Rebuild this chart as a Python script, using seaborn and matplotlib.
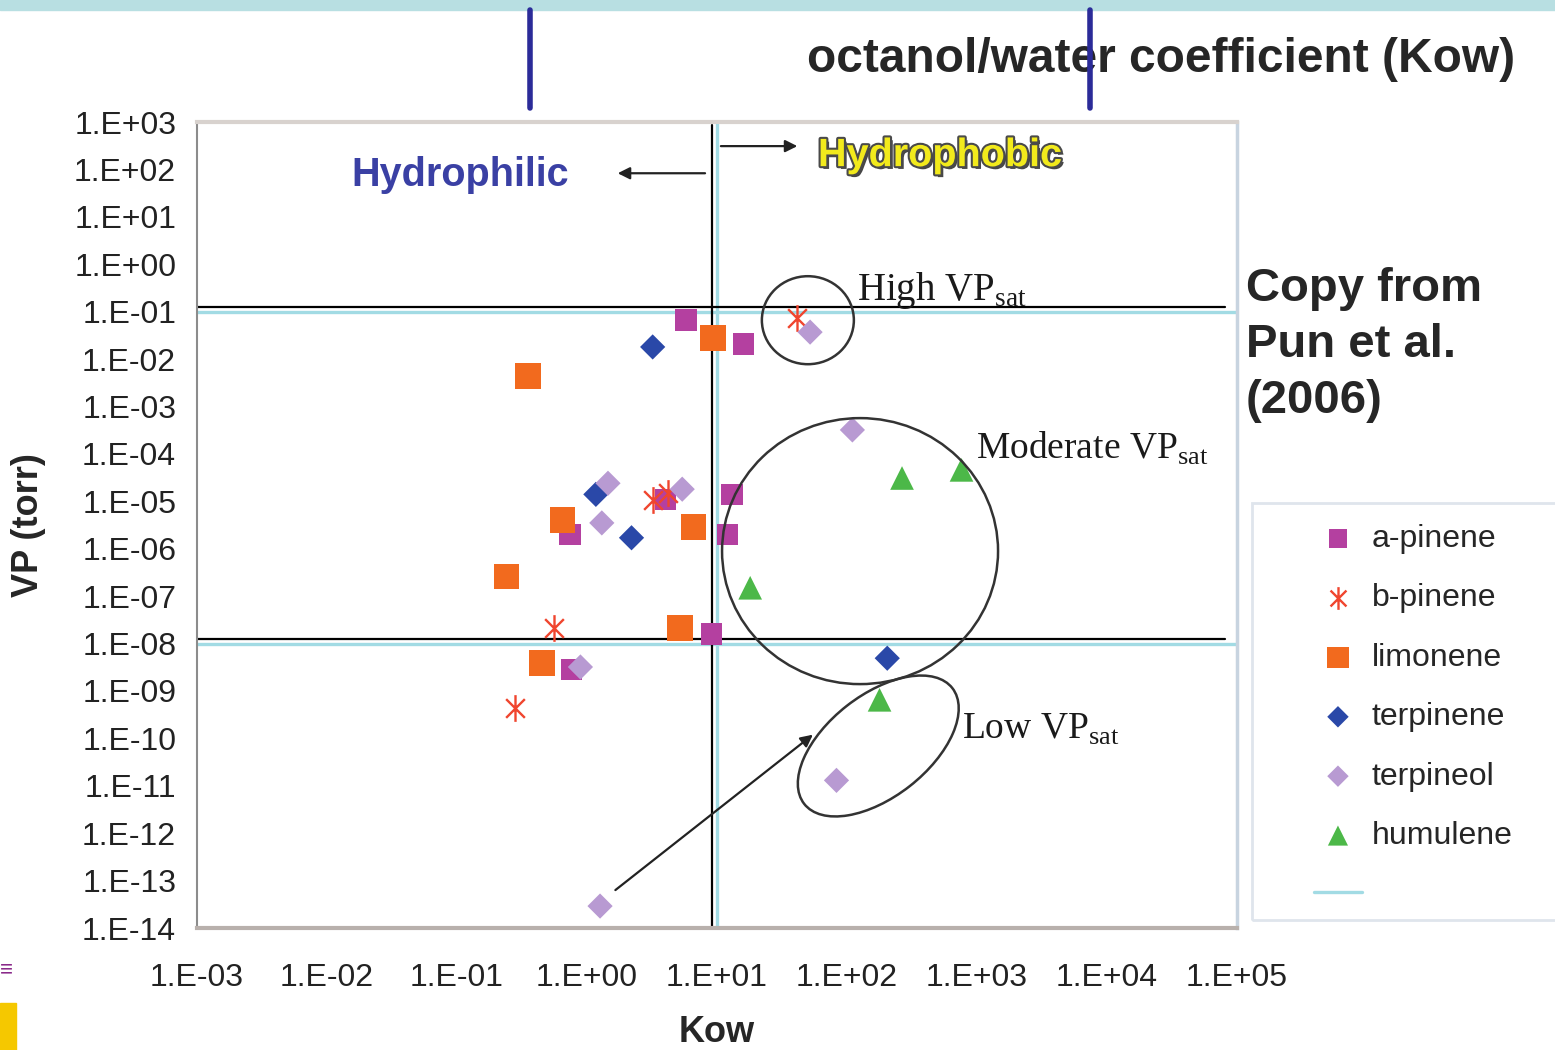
import numpy as np
import pandas as pd
import matplotlib
matplotlib.use("Agg")
import matplotlib.pyplot as plt
import matplotlib.patheffects as pe
from matplotlib.patches import Ellipse, Rectangle
from matplotlib.lines import Line2D
from matplotlib.path import Path
from matplotlib.transforms import IdentityTransform
import seaborn as sns

# data (Kow, VP in torr)
a_pinene_kow = [5.8, 16, 13, 12, 0.74, 4.0, 9.1, 0.76]
a_pinene_vp = [0.066, 0.021, 1.4e-5, 2.0e-6, 2.0e-6, 1.1e-5, 1.6e-8, 2.8e-9]

b_pinene_kow = [41, 3.2, 4.2, 0.56, 0.28]
b_pinene_vp = [0.074, 1.07e-5, 1.5e-5, 2.1e-8, 4.4e-10]

limonene_kow = [0.35, 9.3, 0.65, 6.6, 0.24, 5.2, 0.45]
limonene_vp = [4.4e-3, 0.028, 4.0e-6, 2.9e-6, 2.6e-7, 2.1e-8, 3.9e-9]

terpinene_kow = [3.2, 1.17, 2.2, 204]
terpinene_vp = [0.018, 1.4e-5, 1.7e-6, 4.9e-9]

terpineol_kow = [52, 110, 1.45, 5.4, 1.3, 0.89, 83, 1.26]
terpineol_vp = [0.037, 3.2e-4, 2.4e-5, 1.8e-5, 3.5e-6, 3.2e-9, 1.3e-11, 2.9e-14]

humulene_kow = [265, 760, 18, 178]
humulene_vp = [3.1e-5, 4.6e-5, 1.5e-7, 6.5e-10]

# Excel style asterisk: an X with a vertical bar
asterisk = Path([(0, -1), (0, 1), (-0.7, -0.7), (0.7, 0.7), (-0.7, 0.7), (0.7, -0.7)],
                [Path.MOVETO, Path.LINETO] * 3)

series = [
    ("a-pinene", a_pinene_kow, a_pinene_vp, "s", "#b440a0", 240),
    ("b-pinene", b_pinene_kow, b_pinene_vp, asterisk, "#f0452e", 370),
    ("limonene", limonene_kow, limonene_vp, "s", "#f26a1e", 340),
    ("terpinene", terpinene_kow, terpinene_vp, "D", "#2a48a8", 165),
    ("terpineol", terpineol_kow, terpineol_vp, "D", "#b89ad2", 165),
    ("humulene", humulene_kow, humulene_vp, "^", "#4cb848", 290),
]

# VP boundaries and Kow split
vp_bounds = [0.1, 1e-8]
kow_split = 10
x_ticks = 10.0 ** np.arange(-3, 6)
y_ticks = 10.0 ** np.arange(-14, 4)

W, H = 1555, 1050

sns.set_style("white")
plt.rcParams['font.family'] = ['Liberation Sans', 'DejaVu Sans']
plt.rcParams['mathtext.fontset'] = 'custom'
plt.rcParams['mathtext.rm'] = 'Liberation Serif'


def fx(px):
    return px / W


def fy(py):
    return 1 - py / H


fig = plt.figure(figsize=(W / 100, H / 100), dpi=100)
ax = fig.add_axes([fx(197), fy(928), (1237 - 197) / W, (928 - 122) / H])

# cyan boundary series
for v in vp_bounds:
    ax.axhline(v, color="#a2dbe4", lw=2.4, zorder=1)
ax.axvline(kow_split, color="#a2dbe4", lw=2.4, zorder=1)

for name, xs, ys, mk, col, size in series:
    df = pd.DataFrame({"Kow": xs, "VP": ys})
    if isinstance(mk, Path):
        sns.scatterplot(data=df, x="Kow", y="VP", marker=mk, color=col, s=size,
                        edgecolor=col, linewidths=1.7, ax=ax, label=name, zorder=3)
    else:
        sns.scatterplot(data=df, x="Kow", y="VP", marker=mk, color=col, s=size,
                        edgecolor="none", ax=ax, label=name, zorder=3)

ax.set_xscale("log")
ax.set_yscale("log")
ax.set_xlim(1e-3, 1e5)
ax.set_ylim(1e-14, 1e3)
ax.set_xticks(x_ticks)
ax.set_xticklabels([f"1.E{int(np.log10(v)):+03d}" for v in x_ticks])
ax.set_yticks(y_ticks)
ax.set_yticklabels([f"1.E{int(np.log10(v)):+03d}" for v in y_ticks])
ax.minorticks_off()
ax.tick_params(axis="both", labelsize=23, colors="#222222", length=6, width=1.2)
ax.tick_params(axis="both", color="#999999")
ax.tick_params(axis="x", pad=19)
ax.tick_params(axis="y", pad=9)
ax.set_xlabel("Kow", fontsize=26, fontweight="bold", labelpad=16)
ax.set_ylabel("VP (torr)", fontsize=26, fontweight="bold", labelpad=20)

for s in ax.spines.values():
    s.set_visible(True)
ax.spines["left"].set_color("#8c8c8c")
ax.spines["left"].set_linewidth(1.5)
ax.spines["bottom"].set_color("#b8b0ac")
ax.spines["bottom"].set_linewidth(3)
ax.spines["top"].set_color("#d8d2ce")
ax.spines["top"].set_linewidth(3)
ax.spines["right"].set_color("#c8d4e0")
ax.spines["right"].set_linewidth(2.5)

# overlaid black guide lines
ax.plot([1e-3, 8.1e4], [0.126, 0.126], color="black", lw=1.6, zorder=2)
ax.plot([1e-3, 8.1e4], [1.23e-8, 1.23e-8], color="black", lw=1.6, zorder=2)
ax.plot([9.1, 9.1], [1e-14, 8.6e2], color="black", lw=1.6, zorder=2)

# arrows
arrow = dict(arrowstyle="-|>", color="#222222", lw=1.6, mutation_scale=18)
ax.annotate("", xy=(1.64, 83), xytext=(8.5, 83), arrowprops=arrow)
ax.annotate("", xy=(43.6, 310), xytext=(10.2, 310), arrowprops=arrow)
ax.annotate("", xy=(56.8, 1.3e-10), xytext=(1.59, 5.8e-14), arrowprops=arrow)

ax.text(0.0155, 76, "Hydrophilic", fontsize=28.5, fontweight="bold", color="#3a40a4",
        va="center", ha="left")
ax.text(59.8, 200, "Hydrophobic", fontsize=28.5, fontweight="bold", color="#f2ea1c",
        va="center", ha="left",
        path_effects=[pe.withSimplePatchShadow(offset=(2, -2), shadow_rgbFace="#333333", alpha=0.9),
                      pe.withStroke(linewidth=3, foreground="#4a4a4a")])

serif = dict(family="Liberation Serif", color="#1a1a1a")
ax.text(119, 0.176, r"High VP$_{\mathrm{sat}}$", fontsize=28, va="baseline", **serif)
ax.text(980, 8.1e-5, r"Moderate VP$_{\mathrm{sat}}$", fontsize=27, va="baseline", **serif)
ax.text(760, 1.0e-10, r"Low VP$_{\mathrm{sat}}$", fontsize=27, va="baseline", **serif)

# group ellipses (centre in data, size in pixels)
ellipses = [((50, 0.066), 92, 88, 0), ((126, 8.9e-7), 276, 266, 0), ((174, 6.9e-11), 188, 102, 38)]
for (cx, cy), w, h, ang in ellipses:
    px, py = ax.transData.transform((cx, cy))
    fig.add_artist(Ellipse((px, py), w, h, angle=ang, transform=IdentityTransform(),
                           fill=False, edgecolor="#333333", lw=1.8))

# legend
handles, labels = ax.get_legend_handles_labels()
ax.get_legend().remove()
handles.append(Line2D([], [], color="#a2dbe4", lw=2.4))
labels.append(" ")
fig.add_artist(Rectangle((fx(1252), fy(920)), 1, (920 - 503) / H, transform=fig.transFigure,
                         fill=False, edgecolor="#dfe5ec", lw=2))
fig.legend(handles, labels, loc="upper left", bbox_to_anchor=(fx(1314), fy(524)),
           frameon=False, fontsize=23, markerscale=0.85, handlelength=1.5,
           handletextpad=0.3, labelspacing=0.92, borderpad=0, borderaxespad=0)

# slide decorations
fig.add_artist(Rectangle((0, fy(10)), 1, 10 / H, transform=fig.transFigure,
                         color="#b8dfe2", zorder=0))
fig.text(fx(807), fy(60), "octanol/water coefficient (Kow)", fontsize=34.5,
         fontweight="bold", va="center", ha="left")
for xl in [530, 1090]:
    fig.add_artist(Line2D([fx(xl)] * 2, [fy(10), fy(108)], color="#2b2b99", lw=4, zorder=5))
fig.text(fx(1246), fy(345), "Copy from\nPun et al.\n(2006)", fontsize=34,
         fontweight="bold", va="center", ha="left", linespacing=1.36)
fig.add_artist(Rectangle((0, fy(1050)), fx(16), 47 / H, transform=fig.transFigure,
                         color="#f5c800"))
fig.text(0, fy(970), "≡", fontsize=16, color="#8a2a8a", va="center", ha="left")

fig.savefig("out.png", dpi=100)
